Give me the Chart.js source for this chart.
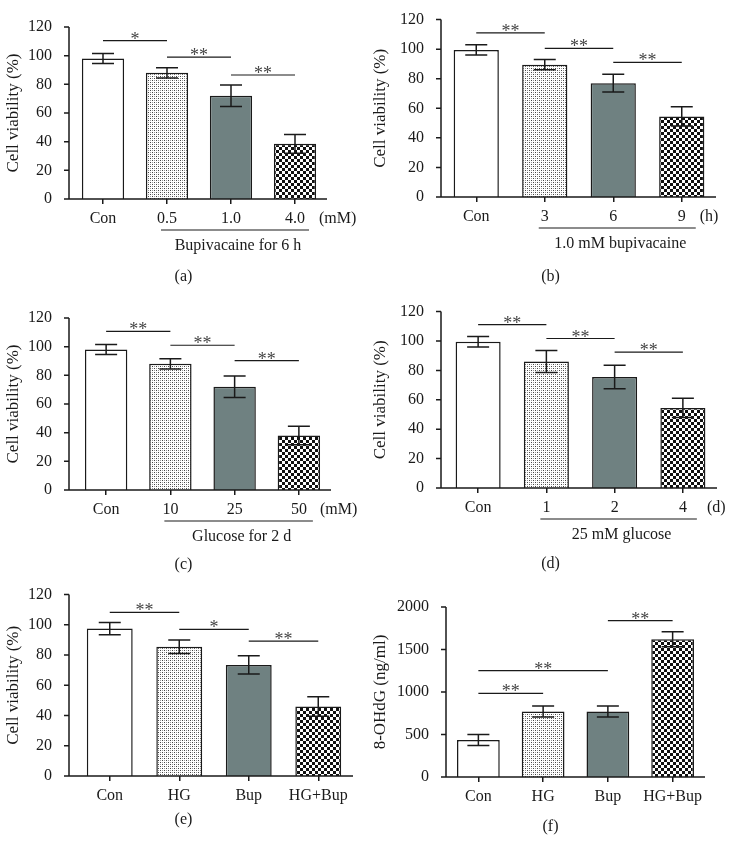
<!DOCTYPE html>
<html>
<head>
<meta charset="utf-8">
<script src="https://cdn.jsdelivr.net/npm/chart.js@4.4.1/dist/chart.umd.min.js"></script>
<style>
html, body { margin: 0; padding: 0; background: #fff; }
#fig { position: relative; width: 734px; height: 860px; }
#fig canvas { position: absolute; }
</style>
</head>
<body>
<div id="fig">
  <canvas id="pa" width="367" height="290" style="left:0;top:0"></canvas>
  <canvas id="pb" width="367" height="290" style="left:367px;top:0"></canvas>
  <canvas id="pc" width="367" height="290" style="left:0;top:290px"></canvas>
  <canvas id="pd" width="367" height="290" style="left:367px;top:290px"></canvas>
  <canvas id="pe" width="367" height="290" style="left:0;top:570px"></canvas>
  <canvas id="pf" width="367" height="290" style="left:367px;top:570px"></canvas>
</div>
<script>
// (a) bupivacaine dose
const catsA = ['Con', '0.5', '1.0', '4.0'];
const meanA = [98, 88, 72, 38.5];
const errA = [3.5, 3.5, 7.5, 6.5];
const sigA = [['Con', '0.5', 110.5, '*'], ['0.5', '1.0', 99, '**'], ['1.0', '4.0', 86.5, '**']];

// (b) bupivacaine time
const catsB = ['Con', '3', '6', '9'];
const meanB = [99.5, 89.5, 77, 54.5];
const errB = [3.5, 3.5, 6, 6.5];
const sigB = [['Con', '3', 111, '**'], ['3', '6', 100.5, '**'], ['6', '9', 91, '**']];

// (c) glucose dose
const catsC = ['Con', '10', '25', '50'];
const meanC = [98, 88, 72, 38];
const errC = [3.5, 3.5, 7.5, 6.5];
const sigC = [['Con', '10', 110.7, '**'], ['10', '25', 101, '**'], ['25', '50', 90.2, '**']];

// (d) glucose time
const catsD = ['Con', '1', '2', '4'];
const meanD = [99.5, 86, 75.5, 54.5];
const errD = [3.5, 7.5, 8, 6.5];
const sigD = [['Con', '1', 111.2, '**'], ['1', '2', 101.7, '**'], ['2', '4', 92.4, '**']];

// (e) combined viability
const catsE = ['Con', 'HG', 'Bup', 'HG+Bup'];
const meanE = [97.5, 85.5, 73.5, 46];
const errE = [4, 4.5, 6, 6.5];
const sigE = [['Con', 'HG', 108.3, '**'], ['HG', 'Bup', 97, '*'], ['Bup', 'HG+Bup', 89.2, '**']];

// (f) 8-OHdG
const catsF = ['Con', 'HG', 'Bup', 'HG+Bup'];
const meanF = [435, 770, 770, 1620];
const errF = [65, 65, 65, 88];
const sigF = [['Con', 'HG', 985, '**'], ['Con', 'Bup', 1252, '**'], ['Bup', 'HG+Bup', 1839, '**']];

const W = 367, H = 290;
const INK = '#1a1a1a';
const SERIF = '"Liberation Serif", "Times New Roman", serif';

// fills: white, dotted, slate grey, checkerboard
function dots() {
  const c = document.createElement('canvas');
  c.width = 4; c.height = 4;
  const g = c.getContext('2d');
  g.fillStyle = '#fff'; g.fillRect(0, 0, 4, 4);
  g.fillStyle = '#444'; g.fillRect(0, 0, 1, 1); g.fillRect(2, 2, 1, 1);
  g.fillStyle = '#999'; g.fillRect(2, 0, 1, 1); g.fillRect(0, 2, 1, 1);
  return g.createPattern(c, 'repeat');
}
function checks() {
  const c = document.createElement('canvas');
  c.width = 6; c.height = 6;
  const g = c.getContext('2d');
  g.fillStyle = '#fff'; g.fillRect(0, 0, 6, 6);
  g.fillStyle = '#111'; g.fillRect(0, 0, 3, 3); g.fillRect(3, 3, 3, 3);
  return g.createPattern(c, 'repeat');
}
const fills = ['#ffffff', dots(), '#6f8181', checks()];

const panels = [
  { id: 'pa', cats: catsA, mean: meanA, err: errA, sig: sigA, max: 120, step: 20, yTitle: 'Cell viability (%)',
    unit: '(mM)', unitDx: 24, group: 'Bupivacaine for 6 h', letter: '(a)', letterY: 78,
    axisX: 69, L: 71, R: 327, top: 27, bottom: 199 },
  { id: 'pb', cats: catsB, mean: meanB, err: errB, sig: sigB, max: 120, step: 20, yTitle: 'Cell viability (%)',
    unit: '(h)', unitDx: 18, group: '1.0 mM bupivacaine', letter: '(b)', letterY: 80,
    axisX: 74, L: 75, R: 349, top: 17, bottom: 197 },
  { id: 'pc', cats: catsC, mean: meanC, err: errC, sig: sigC, max: 120, step: 20, yTitle: 'Cell viability (%)',
    unit: '(mM)', unitDx: 21, group: 'Glucose for 2 d', letter: '(c)', letterY: 75,
    axisX: 69, L: 74, R: 331, top: 28, bottom: 200 },
  { id: 'pd', cats: catsD, mean: meanD, err: errD, sig: sigD, max: 120, step: 20, yTitle: 'Cell viability (%)',
    unit: '(d)', unitDx: 24, group: '25 mM glucose', letter: '(d)', letterY: 76,
    axisX: 74, L: 77, R: 350, top: 17, bottom: 198 },
  { id: 'pe', cats: catsE, mean: meanE, err: errE, sig: sigE, max: 120, step: 20, yTitle: 'Cell viability (%)',
    unit: null, group: null, letter: '(e)', letterY: 44,
    axisX: 69, L: 75, R: 353, top: 24, bottom: 206 },
  { id: 'pf', cats: catsF, mean: meanF, err: errF, sig: sigF, max: 2000, step: 500, yTitle: '8-OHdG (ng/ml)',
    unit: null, group: null, letter: '(f)', letterY: 50,
    axisX: 79, L: 79, R: 338, top: 37, bottom: 207 }
];

function extras(p) {
  return {
    id: 'extras_' + p.id,
    afterDatasetsDraw(chart) {
      const ctx = chart.ctx, x = chart.scales.x, y = chart.scales.y, a = chart.chartArea;
      ctx.save();
      ctx.strokeStyle = INK;
      ctx.lineWidth = 1.5;

      // error bars
      const cap = 11;
      p.mean.forEach((m, i) => {
        const px = x.getPixelForValue(i);
        const hi = y.getPixelForValue(m + p.err[i]);
        const lo = y.getPixelForValue(m - p.err[i]);
        ctx.beginPath();
        ctx.moveTo(px, hi); ctx.lineTo(px, lo);
        ctx.moveTo(px - cap, hi); ctx.lineTo(px + cap, hi);
        ctx.moveTo(px - cap, lo); ctx.lineTo(px + cap, lo);
        ctx.stroke();
      });

      // axis lines + y ticks
      ctx.beginPath();
      ctx.moveTo(p.axisX, y.getPixelForValue(p.max));
      ctx.lineTo(p.axisX, a.bottom);
      ctx.lineTo(a.right, a.bottom);
      y.ticks.forEach(t => {
        const py = y.getPixelForValue(t.value);
        ctx.moveTo(p.axisX - 5, py); ctx.lineTo(p.axisX, py);
      });
      ctx.stroke();

      // significance bars
      ctx.lineWidth = 1.2;
      ctx.fillStyle = '#444';
      ctx.font = '18px ' + SERIF;
      ctx.textAlign = 'center';
      ctx.textBaseline = 'alphabetic';
      p.sig.forEach(s => {
        const x0 = x.getPixelForValue(p.cats.indexOf(s[0]));
        const x1 = x.getPixelForValue(p.cats.indexOf(s[1]));
        const py = y.getPixelForValue(s[2]);
        ctx.beginPath();
        ctx.moveTo(x0, py); ctx.lineTo(x1, py);
        ctx.stroke();
        ctx.fillText(s[3], (x0 + x1) / 2, py + 4);
      });

      // group label under the axis
      ctx.fillStyle = INK;
      ctx.font = '16px ' + SERIF;
      if (p.group) {
        const g0 = x.getPixelForValue(1) - 6;
        const g1 = x.getPixelForValue(3) + 14;
        const gy = a.bottom + 31;
        ctx.beginPath();
        ctx.moveTo(g0, gy); ctx.lineTo(g1, gy);
        ctx.stroke();
        ctx.textBaseline = 'middle';
        ctx.fillText(p.group, (g0 + g1) / 2 + 3, a.bottom + 47);
      }
      if (p.unit) {
        ctx.textAlign = 'left';
        ctx.textBaseline = 'middle';
        ctx.fillText(p.unit, x.getPixelForValue(3) + p.unitDx, a.bottom + 20);
      }
      ctx.textAlign = 'center';
      ctx.textBaseline = 'middle';
      ctx.fillText(p.letter, W / 2, a.bottom + p.letterY);
      ctx.restore();
    }
  };
}

panels.forEach(p => {
  new Chart(document.getElementById(p.id), {
    type: 'bar',
    data: {
      labels: p.cats,
      datasets: [{
        data: p.mean,
        backgroundColor: fills,
        borderColor: INK,
        borderWidth: 1.5,
        barPercentage: 0.66,
        categoryPercentage: 1
      }]
    },
    options: {
      responsive: false,
      animation: false,
      devicePixelRatio: 1,
      layout: { padding: { left: 0, top: p.top, right: W - p.R, bottom: 0 } },
      plugins: { legend: { display: false }, tooltip: { enabled: false } },
      scales: {
        x: {
          grid: { display: true, drawOnChartArea: false, drawTicks: true, tickLength: 5, offset: false, color: INK, lineWidth: 1.5 },
          border: { display: false },
          ticks: { font: { family: SERIF, size: 16 }, color: INK, padding: 5, maxRotation: 0, autoSkip: false },
          afterFit: s => { s.height = H - p.bottom; }
        },
        y: {
          min: 0,
          max: p.max,
          grid: { display: false },
          border: { display: false },
          ticks: { stepSize: p.step, font: { family: SERIF, size: 16 }, color: INK, padding: p.L - p.axisX + 9,
                   callback: v => String(v) },
          title: { display: true, text: p.yTitle, font: { family: SERIF, size: 17 }, color: INK, padding: { top: 3, bottom: 0 } },
          afterFit: s => { s.width = p.L; }
        }
      }
    },
    plugins: [extras(p)]
  });
});
</script>
</body>
</html>
